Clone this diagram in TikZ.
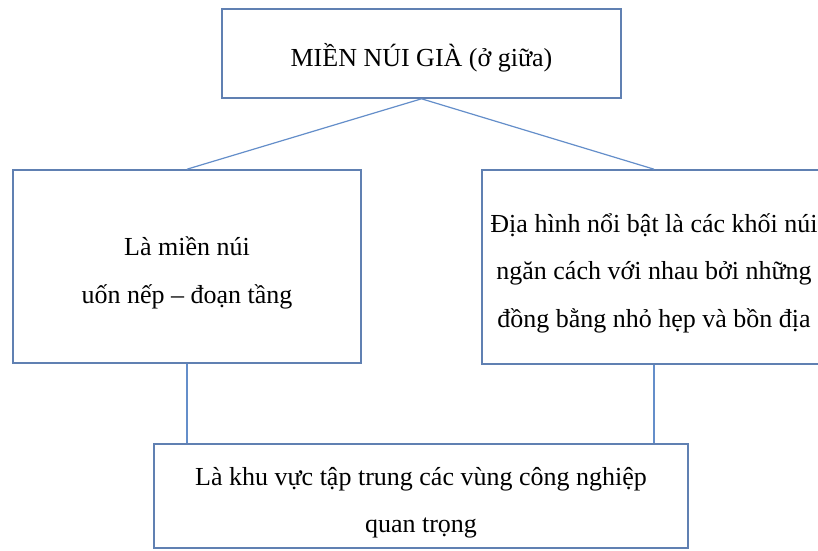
\documentclass[tikz,border=0pt]{standalone}
\usepackage{fontspec}
\setmainfont{Liberation Serif}
\usepackage{tikz}
\definecolor{boxblue}{RGB}{96,128,178}
\definecolor{lineblue}{RGB}{100,142,202}
\newcommand{\boxtext}[1]{\raisebox{-9.5pt}[0pt][0pt]{\begin{tabular}{@{}c@{}}#1\end{tabular}}}
\tikzset{
  box/.style={draw=boxblue, line width=1.6pt, inner sep=0pt,
    font=\fontsize{26}{47.5}\selectfont},
  link/.style={draw=lineblue, line width=1.2pt}
}

\begin{document}
\begin{tikzpicture}[x=1pt, y=1pt]
  % Fix the page size
  \clip (0,0) rectangle (818,550);
  \fill[white] (0,0) rectangle (818,550);

  % Draw the boxes
  \node[box, minimum width=399, minimum height=89] (mien) at (421.5,496.5) {\boxtext{MIỀN NÚI GIÀ (ở giữa)}};
  \node[box, minimum width=348, minimum height=193] (uonnep) at (187,283.5) {\boxtext{Là miền núi\\uốn nếp – đoạn tầng}};
  \node[box, minimum width=344, minimum height=194] (diahinh) at (654,283) {\boxtext{Địa hình nổi bật là các khối núi\\ngăn cách với nhau bởi những\\đồng bằng nhỏ hẹp và bồn địa}};
  \node[box, minimum width=534, minimum height=104] (congnghiep) at (421,54) {\boxtext{Là khu vực tập trung các vùng công nghiệp\\quan trọng}};

  % Draw the links
  \draw[link] (mien.south) -- (uonnep.north);
  \draw[link] (mien.south) -- (diahinh.north);
  \foreach \b in {uonnep, diahinh} {
    \draw[link] (\b.south) -- (\b.south |- congnghiep.north);
  }
\end{tikzpicture}
\end{document}
